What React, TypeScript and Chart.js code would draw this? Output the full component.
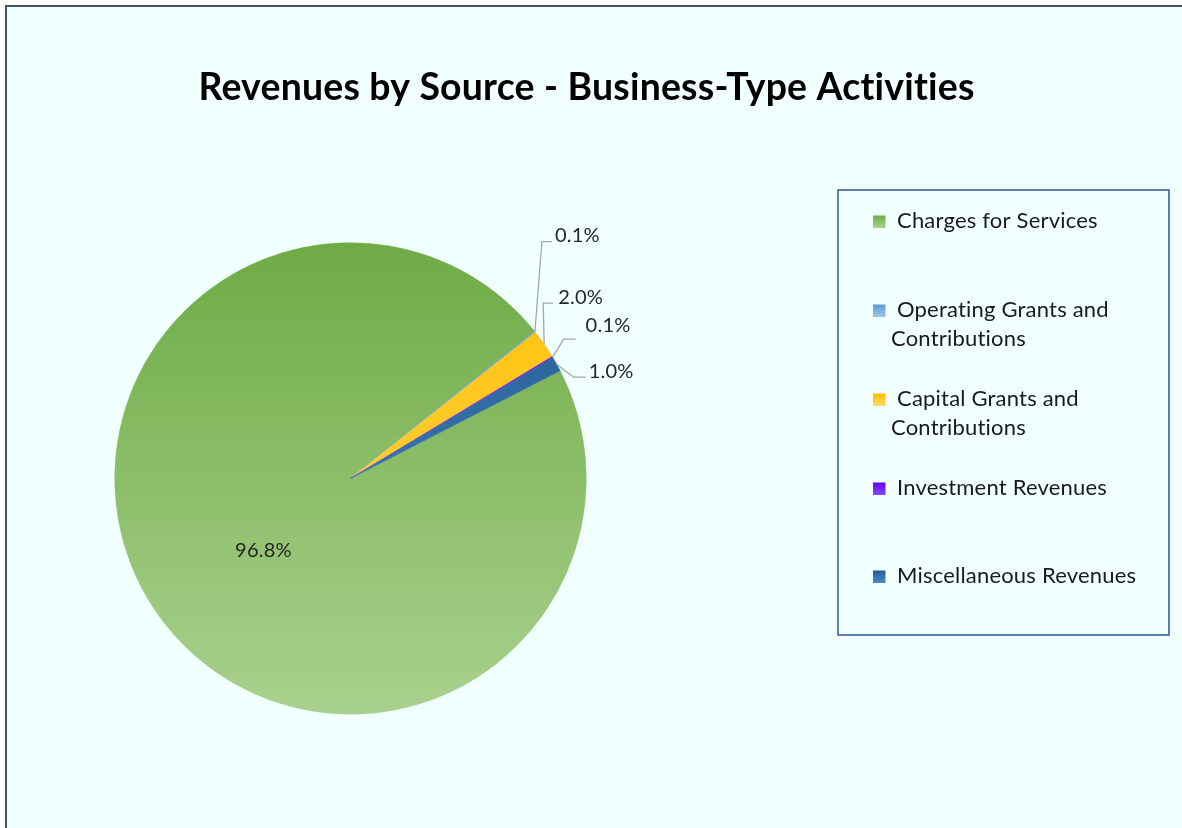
import React, { useEffect, useRef } from 'react';
import { Chart, registerables } from 'chart.js';

Chart.register(...registerables);

// ---------- data ----------
const TITLE = 'Revenues by Source - Business-Type Activities';
const categories = [
  'Charges for Services',
  'Operating Grants and Contributions',
  'Capital Grants and Contributions',
  'Investment Revenues',
  'Miscellaneous Revenues',
];
const legendLines = [
  ['Charges for Services'],
  ['Operating Grants and', 'Contributions'],
  ['Capital Grants and', 'Contributions'],
  ['Investment Revenues'],
  ['Miscellaneous Revenues'],
];
const values = [96.8, 0.1, 2.0, 0.1, 1.0];
const sliceTop = ['#6EAB45', '#5B9BD5', '#FFC000', '#6600FF', '#245B8F'];
const sliceBottom = ['#A9D18E', '#9DC3E6', '#FFD966', '#8445FF', '#4A8ACB'];

// ---------- layout / style ----------
const W = 1182;
const H = 828;
const FONT = 'Lato, "Open Sans", "DejaVu Sans", sans-serif';
const BG = '#F2FFFF';
const FRAME = '#44546A';
const LEGEND_BORDER = '#2F5597';
const LEADER = '#A6A6A6';
const LABEL_COLOR = '#262626';
const SPACING = '0.2px';

// label placement relative to slice outer-edge midpoint (outside labels) or pie centre (inside)
const labelLayout: any[] = [
  { inside: true, dx: -87, dy: 72 },
  { elbow: [7, -90], end: [17, -90], text: [20, -96] },
  { elbow: [-1, -41], end: [9, -41], text: [14, -47] },
  { elbow: [11, -18], end: [23, -18], text: [33, -32] },
  { elbow: [17, 13], end: [29, 13], text: [32, 7] },
];

const legendBox = { x: 838, y: 190, w: 331, h: 445 };
const legendRows = [221, 310, 399, 488, 576];
const legendLineGap = 28.5;

function setSpacing(ctx: any) {
  try {
    ctx.letterSpacing = SPACING;
  } catch (e) {}
}

function fitSize(ctx: CanvasRenderingContext2D, text: string, target: number, weight: string) {
  setSpacing(ctx);
  ctx.font = `${weight} 100px ${FONT}`;
  const w = ctx.measureText(text).width;
  return (100 * target) / w;
}

const decorPlugin = {
  id: 'decor',
  beforeDraw(chart: any) {
    const ctx: CanvasRenderingContext2D = chart.ctx;
    ctx.save();
    ctx.fillStyle = '#FFFFFF';
    ctx.fillRect(0, 0, W, H);
    ctx.fillStyle = BG;
    ctx.fillRect(7, 7, W - 7, H - 7);
    ctx.fillStyle = FRAME;
    ctx.fillRect(5, 5, W - 5, 2);
    ctx.fillRect(5, 5, 2, H - 5);
    ctx.restore();
  },
  afterDatasetsDraw(chart: any) {
    const ctx: CanvasRenderingContext2D = chart.ctx;
    const meta = chart.getDatasetMeta(0);
    ctx.save();
    const labelSize = fitSize(ctx, '96.8%', 56, 'normal');
    meta.data.forEach((arc: any, i: number) => {
      const lay = labelLayout[i];
      const text = values[i].toFixed(1) + '%';
      setSpacing(ctx);
      ctx.font = `normal ${labelSize}px ${FONT}`;
      ctx.fillStyle = LABEL_COLOR;
      ctx.textBaseline = 'middle';
      if (lay.inside) {
        ctx.textAlign = 'center';
        ctx.fillText(text, arc.x + lay.dx, arc.y + lay.dy);
        return;
      }
      const mid = (arc.startAngle + arc.endAngle) / 2;
      const ex = arc.x + Math.cos(mid) * arc.outerRadius;
      const ey = arc.y + Math.sin(mid) * arc.outerRadius;
      ctx.strokeStyle = LEADER;
      ctx.lineWidth = 1.3;
      ctx.beginPath();
      ctx.moveTo(ex, ey);
      ctx.lineTo(ex + lay.elbow[0], ey + lay.elbow[1]);
      ctx.lineTo(ex + lay.end[0], ey + lay.end[1]);
      ctx.stroke();
      ctx.textAlign = 'left';
      ctx.fillText(text, ex + lay.text[0], ey + lay.text[1]);
    });
    ctx.restore();
  },
  afterDraw(chart: any) {
    const ctx: CanvasRenderingContext2D = chart.ctx;
    ctx.save();
    // title
    const tSize = fitSize(ctx, TITLE, 771, 'bold');
    ctx.font = `bold ${tSize}px ${FONT}`;
    ctx.fillStyle = '#000000';
    ctx.textAlign = 'center';
    ctx.textBaseline = 'middle';
    ctx.fillText(TITLE, 586.5, 88);

    // legend box
    ctx.strokeStyle = LEGEND_BORDER;
    ctx.lineWidth = 1.5;
    ctx.strokeRect(legendBox.x, legendBox.y, legendBox.w, legendBox.h);

    const lSize = fitSize(ctx, 'Miscellaneous Revenues', 236, 'normal');
    ctx.font = `normal ${lSize}px ${FONT}`;
    ctx.textAlign = 'left';
    ctx.textBaseline = 'middle';
    legendLines.forEach((lines, i) => {
      const y = legendRows[i];
      const my = y - 5.5;
      const g = ctx.createLinearGradient(0, my, 0, my + 12);
      g.addColorStop(0, sliceTop[i]);
      g.addColorStop(1, sliceBottom[i]);
      ctx.fillStyle = g;
      ctx.fillRect(873, my, 12.5, 12.5);
      ctx.fillStyle = '#1A1A1A';
      lines.forEach((ln, j) => {
        ctx.fillText(ln, j === 0 ? 897 : 891, y + j * legendLineGap);
      });
    });
    ctx.restore();
  },
};

export default function App() {
  const ref = useRef<HTMLCanvasElement | null>(null);
  useEffect(() => {
    if (!ref.current) return;
    const bg = (ctx: any) => {
      const chart = ctx.chart;
      const area = chart.chartArea;
      const i = ctx.dataIndex;
      if (!area) return sliceTop[i];
      const g = chart.ctx.createLinearGradient(0, area.top, 0, area.bottom);
      g.addColorStop(0, sliceTop[i]);
      g.addColorStop(1, sliceBottom[i]);
      return g;
    };
    const chart = new Chart(ref.current, {
      type: 'pie',
      data: {
        labels: categories,
        datasets: [
          {
            data: values,
            backgroundColor: bg,
            borderColor: bg,
            borderWidth: 0.5,
          },
        ],
      },
      options: {
        responsive: true,
        maintainAspectRatio: false,
        animation: false,
        rotation: 62.8,
        layout: { padding: { left: 114.5, top: 242.5, right: W - 586.5, bottom: H - 714.5 } },
        plugins: {
          legend: { display: false },
          title: { display: false },
          tooltip: { enabled: false },
        },
      },
      plugins: [decorPlugin],
    });
    return () => chart.destroy();
  }, []);
  return (
    <div style={{ position: 'fixed', left: 0, top: 0, width: W, height: H }}>
      <canvas ref={ref} />
    </div>
  );
}
